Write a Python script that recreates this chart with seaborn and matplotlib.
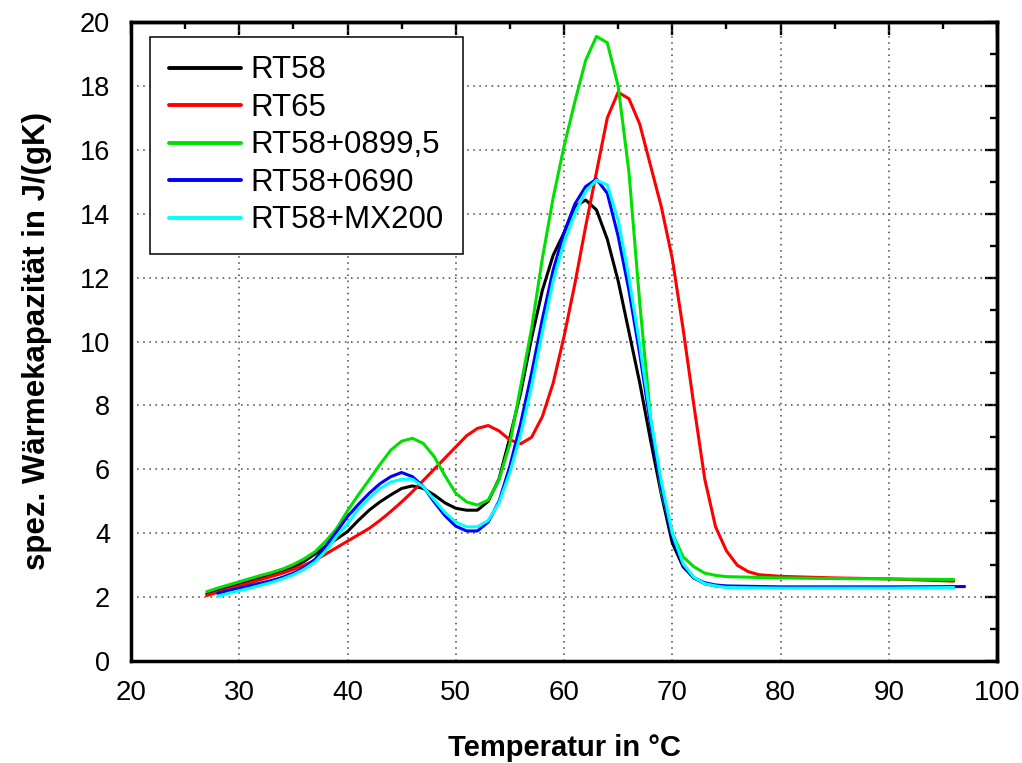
import matplotlib
matplotlib.use("Agg")
import matplotlib.pyplot as plt
from matplotlib import font_manager
from matplotlib.ticker import MultipleLocator
import pandas as pd
import seaborn as sns

# values (temperature in °C -> J/(gK))
t_rt58 = [27, 28, 29, 30, 31, 32, 33, 34, 35, 36, 37, 38, 39, 40, 41, 42, 43, 44, 45, 46,
          47, 48, 49, 50, 51, 52, 53, 54, 55, 56, 57, 58, 59, 60, 61, 62, 63, 64, 65, 66,
          67, 68, 69, 70, 71, 72, 73, 74, 75, 80, 85, 90, 96]
cp_rt58 = [2.10, 2.20, 2.30, 2.40, 2.50, 2.60, 2.70, 2.82, 2.95, 3.12, 3.35, 3.60, 3.82, 4.05, 4.40, 4.72, 4.98, 5.20, 5.40, 5.48,
           5.40, 5.20, 4.95, 4.78, 4.72, 4.72, 5.00, 5.70, 7.00, 8.40, 10.10, 11.60, 12.70, 13.40, 14.22, 14.43, 14.12, 13.20, 11.90, 10.30,
           8.70, 6.90, 5.20, 3.70, 2.95, 2.60, 2.42, 2.35, 2.32, 2.30, 2.30, 2.30, 2.30]

t_rt65 = [27, 28, 29, 30, 31, 32, 33, 34, 35, 36, 37, 38, 39, 40, 41, 42, 43, 44, 45, 46,
          47, 48, 49, 50, 51, 52, 53, 54, 55, 56, 57, 58, 59, 60, 61, 62, 63, 64, 65, 66,
          67, 68, 69, 70, 71, 72, 73, 74, 75, 76, 77, 78, 80, 85, 90, 96]
cp_rt65 = [2.05, 2.15, 2.25, 2.35, 2.45, 2.55, 2.65, 2.75, 2.87, 3.00, 3.15, 3.35, 3.55, 3.75, 3.95, 4.15, 4.40, 4.68, 4.98, 5.30,
           5.65, 6.00, 6.35, 6.70, 7.05, 7.28, 7.37, 7.20, 6.92, 6.80, 7.00, 7.65, 8.70, 10.15, 11.80, 13.60, 15.30, 17.00, 17.80, 17.60,
           16.80, 15.50, 14.20, 12.60, 10.40, 8.00, 5.70, 4.20, 3.45, 3.00, 2.80, 2.70, 2.65, 2.60, 2.57, 2.50]

t_0899 = [27, 28, 29, 30, 31, 32, 33, 34, 35, 36, 37, 38, 39, 40, 41, 42, 43, 44, 45, 46,
          47, 48, 49, 50, 51, 52, 53, 54, 55, 56, 57, 58, 59, 60, 61, 62, 63, 64, 65, 66,
          67, 68, 69, 70, 71, 72, 73, 74, 75, 80, 85, 90, 96]
cp_0899 = [2.17, 2.28, 2.38, 2.48, 2.58, 2.68, 2.77, 2.88, 3.02, 3.20, 3.42, 3.75, 4.15, 4.70, 5.20, 5.67, 6.15, 6.60, 6.88, 6.97,
           6.81, 6.40, 5.80, 5.25, 4.98, 4.88, 5.04, 5.67, 6.81, 8.60, 10.40, 12.60, 14.50, 16.10, 17.50, 18.80, 19.55, 19.35, 18.00, 15.30,
           11.20, 7.60, 5.30, 4.00, 3.26, 2.95, 2.75, 2.68, 2.64, 2.60, 2.58, 2.57, 2.55]

t_0690 = [28, 29, 30, 31, 32, 33, 34, 35, 36, 37, 38, 39, 40, 41, 42, 43, 44, 45, 46,
          47, 48, 49, 50, 51, 52, 53, 54, 55, 56, 57, 58, 59, 60, 61, 62, 63, 64, 65, 66,
          67, 68, 69, 70, 71, 72, 73, 74, 75, 80, 85, 90, 97]
cp_0690 = [2.12, 2.20, 2.28, 2.36, 2.44, 2.52, 2.62, 2.75, 2.92, 3.18, 3.60, 4.05, 4.52, 4.90, 5.25, 5.55, 5.77, 5.90, 5.77,
           5.46, 4.98, 4.55, 4.22, 4.07, 4.07, 4.35, 5.00, 6.10, 7.44, 9.00, 10.70, 12.24, 13.40, 14.30, 14.85, 15.08, 14.64, 13.30, 11.60,
           9.60, 7.40, 5.40, 3.90, 3.00, 2.60, 2.45, 2.38, 2.35, 2.32, 2.32, 2.32, 2.33]

t_mx200 = [28, 29, 30, 31, 32, 33, 34, 35, 36, 37, 38, 39, 40, 41, 42, 43, 44, 45, 46,
           47, 48, 49, 50, 51, 52, 53, 54, 55, 56, 57, 58, 59, 60, 61, 62, 63, 64, 65, 66,
           67, 68, 69, 70, 71, 72, 73, 74, 75, 80, 85, 90, 96]
cp_mx200 = [2.02, 2.12, 2.20, 2.28, 2.37, 2.46, 2.57, 2.70, 2.87, 3.10, 3.45, 3.90, 4.30, 4.75, 5.10, 5.40, 5.60, 5.69, 5.69,
            5.45, 5.05, 4.65, 4.35, 4.20, 4.20, 4.40, 4.95, 5.90, 7.10, 8.60, 10.30, 11.90, 13.10, 14.00, 14.70, 15.05, 14.90, 13.80, 12.00,
            9.90, 7.60, 5.60, 4.00, 3.05, 2.62, 2.42, 2.35, 2.30, 2.28, 2.28, 2.28, 2.30]

labels = ["RT58", "RT65", "RT58+0899,5", "RT58+0690", "RT58+MX200"]
colors = ["#000000", "#ff0000", "#00e000", "#0000ff", "#00ffff"]

frames = []
for name, t, cp in zip(labels,
                       [t_rt58, t_rt65, t_0899, t_0690, t_mx200],
                       [cp_rt58, cp_rt65, cp_0899, cp_0690, cp_mx200]):
    frames.append(pd.DataFrame({"T": t, "cp": cp, "Probe": name}))
df = pd.concat(frames, ignore_index=True)

sns.set_style("white")
names = {f.name for f in font_manager.fontManager.ttflist}
base = "Liberation Sans" if "Liberation Sans" in names else "DejaVu Sans"
plt.rcParams["font.family"] = [base, "DejaVu Sans"]
plt.rcParams["text.color"] = "black"
plt.rcParams["axes.labelcolor"] = "black"
plt.rcParams["xtick.color"] = "black"
plt.rcParams["ytick.color"] = "black"

fig = plt.figure(figsize=(10.22, 7.63), dpi=100)
ax = fig.add_axes([131 / 1022, 102 / 763, 866 / 1022, 639 / 763])

sns.lineplot(data=df, x="T", y="cp", hue="Probe", hue_order=labels,
             palette=colors, linewidth=2.2, sort=False, ax=ax)

ax.set_xlim(20, 100)
ax.set_ylim(0, 20)
ax.xaxis.set_major_locator(MultipleLocator(10))
ax.xaxis.set_minor_locator(MultipleLocator(5))
ax.yaxis.set_major_locator(MultipleLocator(2))
ax.yaxis.set_minor_locator(MultipleLocator(1))
ax.grid(True, which="major", linestyle=(0, (1, 3)), color="#444444", linewidth=1.1)

ax.tick_params(which="both", direction="out", width=1.7, colors="black")
ax.tick_params(which="major", length=9)
ax.tick_params(which="minor", length=5)
ax.tick_params(axis="y", labelsize=19.5, pad=6)
ax.tick_params(axis="x", labelsize=20, pad=4.5)
for sp in ax.spines.values():
    sp.set_linewidth(2.5)
    sp.set_color("black")

# inward ticks on top and right
top = ax.secondary_xaxis("top")
top.xaxis.set_major_locator(MultipleLocator(10))
top.xaxis.set_minor_locator(MultipleLocator(5))
top.tick_params(which="both", direction="in", labeltop=False, width=1.7)
top.tick_params(which="major", length=9)
top.tick_params(which="minor", length=5)
right = ax.secondary_yaxis("right")
right.yaxis.set_major_locator(MultipleLocator(2))
right.yaxis.set_minor_locator(MultipleLocator(1))
right.tick_params(which="both", direction="in", labelright=False, width=1.7)
right.tick_params(which="major", length=9)
right.tick_params(which="minor", length=5)
for sec in (top, right):
    for sp in sec.spines.values():
        sp.set_linewidth(2.5)

ax.set_xlabel("Temperatur in °C", fontsize=21, fontweight="bold", labelpad=20)
ax.set_ylabel("spez. Wärmekapazität in J/(gK)", fontsize=22.5, fontweight="bold", labelpad=20)

leg = ax.legend(loc="upper left", bbox_to_anchor=(0.022, 0.977), borderaxespad=0,
                fontsize=22.5, handlelength=2.3, handletextpad=0.32,
                labelspacing=0.24, borderpad=0.6,
                fancybox=False, framealpha=1, edgecolor="black", title=None)
leg.get_frame().set_linewidth(1.1)
for line in leg.get_lines():
    line.set_linewidth(2.8)
for txt in leg.get_texts():
    txt.set_color("black")

fig.savefig("out.png", dpi=100)
